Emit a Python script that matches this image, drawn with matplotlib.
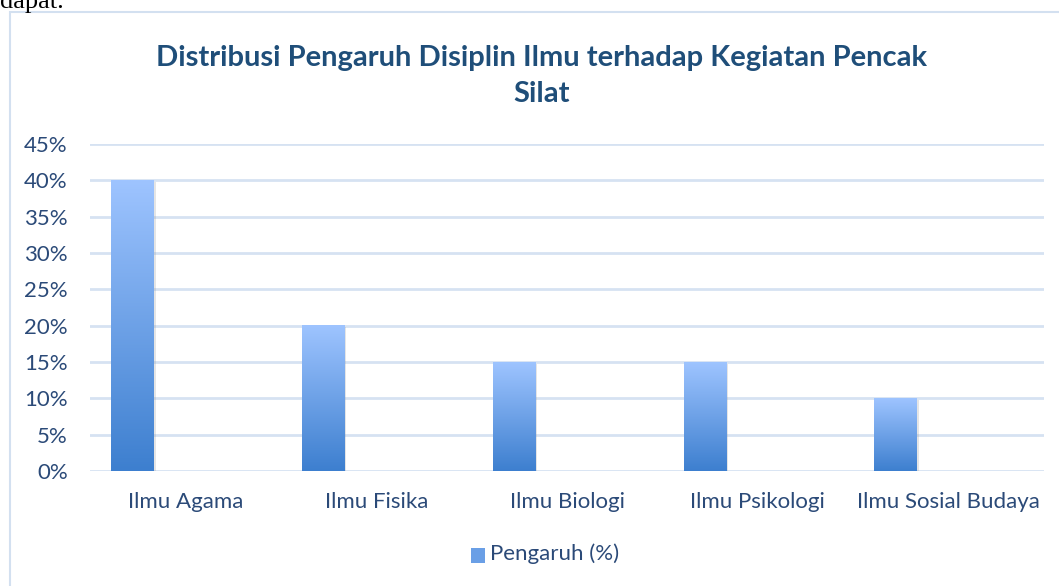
import numpy as np
import matplotlib.pyplot as plt
from matplotlib.colors import LinearSegmentedColormap
from matplotlib.patches import Rectangle
from matplotlib.ticker import FuncFormatter

categories = ["Ilmu Agama", "Ilmu Fisika", "Ilmu Biologi", "Ilmu Psikologi", "Ilmu Sosial Budaya"]
pengaruh = [0.40, 0.20, 0.15, 0.15, 0.10]
yticks = [0, 0.05, 0.10, 0.15, 0.20, 0.25, 0.30, 0.35, 0.40, 0.45]

title_col = "#1f4e79"
text_col = "#2b4a78"
grid_col = "#d6e2f2"
grad = LinearSegmentedColormap.from_list("grad", ["#3d7fcf", "#9ec4ff"])

plt.rcParams['font.family'] = ['Lato', 'DejaVu Sans']

fig = plt.figure(figsize=(10.59, 5.86), dpi=100)
ax = fig.add_axes([0.085, 0.196, 0.901, 0.558])

# chart frame + bit of document text above it
fig.patches.append(Rectangle((10 / 1059, -0.1), 1.2, 1 - 12 / 586 + 0.1,
                             transform=fig.transFigure, fill=False,
                             edgecolor="#d3e0f0", linewidth=1.5))
fig.text(0.0, 1.0 - 8 / 586, "dapat.", family="Liberation Serif", fontsize=19,
         ha="left", va="baseline", color="black")

x = np.arange(len(categories))
off, w = -0.277, 0.225
grad_img = np.linspace(0, 1, 256).reshape(-1, 1)
for xi, v in zip(x, pengaruh):
    x0 = xi + off - w / 2
    # soft shadow
    ax.add_patch(Rectangle((x0 + 0.008, -0.002), w, v, facecolor="#999999",
                           alpha=0.25, edgecolor="none", zorder=2))
    ax.imshow(grad_img, extent=(x0, x0 + w, 0, v), origin="lower",
              cmap=grad, aspect="auto", zorder=3)

ax.set_xlim(-0.5, len(categories) - 0.5)
ax.set_ylim(0, 0.45)
ax.set_yticks(yticks)
ax.yaxis.set_major_formatter(FuncFormatter(lambda v, p: f"{v * 100:.0f}%"))
ax.set_xticks(x)
ax.set_xticklabels(categories)
ax.tick_params(length=0, labelsize=16, labelcolor=text_col)
ax.tick_params(axis="x", pad=15)
ax.tick_params(axis="y", pad=16)
ax.grid(axis="y", color=grid_col, linewidth=2)
ax.set_axisbelow(True)
for s in ax.spines.values():
    s.set_visible(False)

fig.text(0.511, 1 - 76 / 586, "Distribusi Pengaruh Disiplin Ilmu terhadap Kegiatan Pencak\nSilat",
         ha="center", va="center", fontsize=21, fontweight="bold", color=title_col,
         linespacing=1.45)

# legend
fig.patches.append(Rectangle((471 / 1059, 1 - 563 / 586), 14 / 1059, 15 / 586,
                             transform=fig.transFigure, facecolor="#6a9fe6",
                             edgecolor="none"))
fig.text(490 / 1059, 1 - 554 / 586, "Pengaruh (%)", ha="left", va="center",
         fontsize=16, color=text_col)

fig.savefig("out.png", dpi=100)
